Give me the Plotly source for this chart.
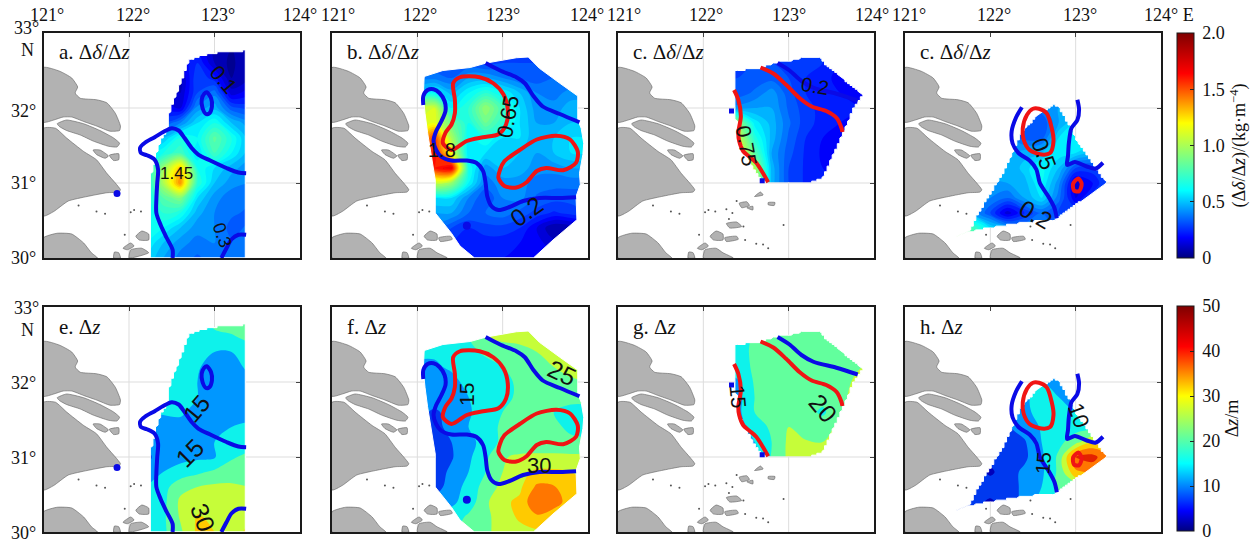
import math
import numpy as np
import plotly.graph_objects as go

# ---------- colour scales and text ----------
CSCALE = [[0, "#00007f"], [0.09, "#0000ff"], [0.3, "#00ffff"], [0.6, "#ffff00"], [0.82, "#ff0000"], [1, "#7f0000"]]
BAND_STOPS = [0, .09, .18, .27, .364, .4545, .545, .636, .727, .818, .909, 1]
BAND_COLORS = ["#0000a0", "#0000d0", "#0055ff", "#00aaff", "#11ffe8", "#66ff99", "#c3ff3c", "#ffd500", "#ff8c00", "#ff3300", "#b00000", "#7f0000"]
LON_TICKS = [121, 122, 123, 124]
LAT_TICKS = [30, 31, 32, 33]
TITLES = ["a. Δ<i>δ</i>/Δ<i>z</i>", "b. Δ<i>δ</i>/Δ<i>z</i>", "c. Δ<i>δ</i>/Δ<i>z</i>", "c. Δ<i>δ</i>/Δ<i>z</i>",
          "e. Δ<i>z</i>", "f. Δ<i>z</i>", "g. Δ<i>z</i>", "h. Δ<i>z</i>"]

# ---------- grids ----------
LON_A = [122.2, 122.4, 122.6, 122.8, 123.0, 123.2, 123.4]
LAT_A = [32.8, 32.6, 32.4, 32.2, 32.0, 31.8, 31.6, 31.4, 31.2, 31.0, 30.8, 30.6, 30.4, 30.2, 30.0]
LON_B = [122.0, 122.2, 122.4, 122.6, 122.8, 123.0, 123.2, 123.4, 123.6, 123.8, 124.0]
LAT_B = LAT_A
LON_C = [122.2, 122.4, 122.6, 122.8, 123.0, 123.2, 123.4, 123.6, 123.8, 124.0]
LAT_C = [32.8, 32.6, 32.4, 32.2, 32.0, 31.8, 31.6, 31.4, 31.2, 31.0]
LON_D = [121.6, 121.8, 122.0, 122.2, 122.4, 122.6, 122.8, 123.0, 123.2, 123.4]
LAT_D = [32.2, 32.0, 31.8, 31.6, 31.4, 31.2, 31.0, 30.8, 30.6, 30.4, 30.2]

# ---------- delta-rho / delta-z fields ----------
Z_A = [
 [.2, .2, .2, .2, .08, .05, .1],
 [.2, .2, .15, .25, .1, .03, .12],
 [.12, .12, .08, .3, .22, .05, .1],
 [.12, .12, .1, .3, .38, .12, .18],
 [.18, .18, .14, .42, .48, .32, .28],
 [.3, .3, .4, .55, .65, .5, .42],
 [.5, .5, .65, .6, .82, .65, .47],
 [.55, .65, .75, .55, .75, .6, .47],
 [.6, .95, 1.3, .65, .55, .47, .42],
 [.6, 1.0, 1.4, .7, .5, .42, .4],
 [.6, .8, .9, .55, .42, .37, .36],
 [.6, .7, .65, .47, .4, .36, .34],
 [.65, .6, .5, .42, .4, .33, .36],
 [.6, .5, .42, .38, .4, .36, .38],
 [.55, .45, .38, .34, .38, .37, .38]]
Z_B = [
 [.3, .3, .3, .3, .3, .3, .28, .28, .28, .28, .28],
 [.3, .3, .3, .3, .28, .3, .3, .3, .3, .3, .3],
 [.38, .38, .35, .45, .45, .4, .35, .32, .35, .35, .35],
 [.5, .6, .48, .6, .7, .6, .5, .4, .38, .42, .42],
 [1.05, 1.1, .6, .7, .95, .75, .55, .42, .42, .48, .48],
 [1.1, 1.15, .85, .65, .85, .7, .55, .45, .45, .5, .5],
 [1.2, 1.55, 1.0, .6, .65, .55, .55, .45, .5, .55, .55],
 [1.1, 1.65, 1.15, .55, .55, .5, .5, .45, .5, .55, .55],
 [1.0, 1.6, 1.7, .65, .42, .5, .48, .42, .42, .45, .45],
 [.7, 1.05, .95, .6, .38, .42, .42, .38, .37, .37, .37],
 [.55, .55, .55, .4, .3, .4, .42, .34, .32, .32, .32],
 [.45, .45, .45, .35, .35, .38, .33, .28, .24, .27, .3],
 [.35, .38, .3, .25, .28, .28, .25, .15, .05, .06, .12],
 [.3, .3, .25, .22, .22, .22, .2, .17, .12, .14, .14],
 [.25, .25, .22, .2, .2, .2, .18, .17, .17, .17, .17]]
Z_C = [
 [.3, .3, .3, .3, .3, .28, .26, .2, .2, .2],
 [.3, .3, .3, .3, .27, .26, .25, .2, .18, .18],
 [.3, .3, .32, .33, .3, .25, .22, .18, .17, .17],
 [.32, .32, .36, .43, .32, .25, .22, .2, .18, .18],
 [.42, .42, .45, .45, .34, .27, .23, .22, .2, .2],
 [1.0, .95, .58, .48, .36, .27, .23, .2, .2, .2],
 [1.2, 1.1, .68, .48, .34, .25, .2, .19, .19, .19],
 [1.2, 1.2, .82, .45, .32, .24, .19, .19, .19, .19],
 [1.2, 1.2, 1.0, .48, .3, .24, .2, .19, .19, .19],
 [1.2, 1.2, 1.1, .48, .3, .24, .22, .2, .2, .2]]
Z_D = [
 [.35, .35, .35, .35, .35, .38, .42, .42, .42, .42],
 [.35, .35, .35, .35, .35, .38, .45, .45, .45, .45],
 [.35, .35, .35, .35, .35, .3, .45, .55, .55, .55],
 [.35, .35, .35, .4, .33, .33, .55, .6, .6, .6],
 [.45, .45, .45, .45, .48, .5, .58, .55, .5, .5],
 [.5, .5, .5, .45, .52, .62, .5, .3, .28, .33],
 [.5, .5, .45, .45, .48, .6, .42, .12, .2, .33],
 [.55, .55, .4, .35, .45, .55, .37, .15, .28, .33],
 [.6, .45, .3, .12, .25, .35, .3, .32, .33, .33],
 [.9, .75, .55, .45, .4, .38, .33, .33, .33, .33],
 [1.0, .9, .6, .5, .42, .4, .33, .33, .33, .33]]

# ---------- delta-z fields ----------
Z_E = [
 [18, 18, 18, 18, 21, 22, 22],
 [17, 17, 17, 18, 19, 19.5, 21],
 [17, 17, 17, 17, 15, 15, 18],
 [17, 17, 17, 15.5, 13, 13, 16],
 [17, 17, 17, 15, 12, 12, 14],
 [16, 16, 16, 15, 12, 12, 13],
 [15, 15.5, 15.5, 14, 12, 12, 13],
 [12, 13, 14, 13, 13, 15, 16],
 [11, 12, 13, 14, 15, 17, 18],
 [9, 12, 13.5, 14, 14.5, 19.5, 21],
 [11, 15, 17, 19, 21, 22, 23],
 [15, 18, 23.5, 25, 26, 26, 25],
 [17, 18.5, 26, 27, 27, 28, 28],
 [17, 19, 25.5, 30.5, 29, 28, 29.5],
 [17, 19, 24, 31, 30, 28, 31]]
Z_F = [
 [17, 17, 18, 20, 26, 27, 27, 27, 27, 27, 27],
 [17, 17, 18, 20, 25.5, 26, 26, 26.5, 27, 27, 27],
 [16, 16, 18, 18.5, 21, 23, 24, 25, 26.5, 27, 27],
 [14, 14, 16, 18, 18, 20, 22, 23, 25, 26, 26],
 [13, 13, 13, 17, 18, 18.5, 21, 22, 23, 24.5, 25],
 [12, 12, 12, 15, 18, 18.5, 21, 22, 22, 22, 22],
 [11, 9.5, 11, 14.5, 17, 20, 21, 21, 20, 18, 18],
 [11, 9, 11, 15, 17.5, 21, 21, 21, 21, 19, 18],
 [10, 8, 10, 13, 17.5, 21, 21, 22, 22, 21, 21],
 [10, 7.5, 9.5, 14, 19, 24.5, 26, 26, 26, 26, 26],
 [10, 7.5, 11, 15, 20, 25, 28.5, 31, 31, 30, 29],
 [10, 8, 12, 17, 22, 26.5, 29, 36, 35.5, 31, 30],
 [12, 12, 14, 17, 24, 29, 31, 40, 38, 32, 30],
 [14, 15, 17, 21, 24, 27, 31, 34, 31, 30, 30],
 [15, 16, 19, 22, 24.5, 26, 28, 29, 29, 29, 29]]
Z_G = [
 [22, 22, 22, 22, 22, 22, 22, 22, 22, 22],
 [18, 18, 21, 22, 22, 22, 22, 22, 23, 23],
 [18, 18, 21, 22, 22, 22, 22, 22, 23, 23],
 [16, 17, 21, 22, 22, 22, 22, 22, 24.5, 26],
 [13, 14.5, 20.5, 22, 22, 22, 22, 23, 26, 27],
 [12, 13, 20, 22, 22, 22, 22, 23.5, 27, 28],
 [12, 13.5, 20, 21, 21.5, 22, 19, 24, 27, 28],
 [12, 13, 17, 21, 25, 22, 23, 26, 28, 28],
 [12, 12, 15, 20, 26, 25.5, 25, 28, 29, 29],
 [12, 12, 12, 20.5, 26, 27, 30, 30, 30, 30]]
Z_H = [
 [12, 12, 12, 12, 12, 13, 13, 12, 12, 12],
 [12, 12, 12, 12, 12, 15, 14, 12, 12, 12],
 [10, 10, 10, 12, 14, 17, 15, 12, 12, 12],
 [9, 9, 9, 9.5, 14, 16.5, 17, 15, 14, 14],
 [9, 9, 9, 9.5, 12, 15.5, 18, 18, 18, 19],
 [8, 8, 8, 8, 9.5, 15, 18.5, 23, 30, 30],
 [8, 8, 7, 8, 9, 14, 21, 40, 42, 35],
 [8, 8, 4, 8, 11, 14, 21, 34, 36, 33],
 [8, 8, 8, 8, 11, 15, 22, 24, 32, 32],
 [8, 7, 4, 8, 11, 17, 20, 25, 28, 30],
 [8, 8, 8, 8, 11, 17, 20, 25, 28, 30]]

# ---------- survey-area outlines ----------
AREA_A = [(122.25, 30), (122.25, 31.09), (122.29, 31.22), (122.32, 31.40), (122.38, 31.58), (122.46, 31.73), (122.47, 31.91),
          (122.50, 32.04), (122.56, 32.20), (122.63, 32.42), (122.70, 32.64), (122.83, 32.69), (122.98, 32.73), (123.14, 32.76),
          (123.32, 32.76), (123.37, 32.79), (123.37, 30)]
AREA_B = [(122.08, 32.42), (122.30, 32.50), (122.62, 32.54), (122.81, 32.60), (122.97, 32.63), (123.16, 32.67), (123.30, 32.68),
          (123.43, 32.53), (123.67, 32.33), (123.88, 32.16), (123.88, 31.84), (123.92, 31.73), (123.95, 31.53), (123.94, 31.38),
          (123.90, 31.13), (123.91, 30.98), (123.86, 30.82), (123.87, 30.51), (123.59, 30.24), (123.36, 30.0), (122.67, 30.0),
          (122.50, 30.16), (122.40, 30.33), (122.21, 30.60), (122.21, 31.04), (122.17, 31.31), (122.12, 31.67), (122.09, 31.93),
          (122.07, 32.16)]
AREA_C = [(122.37, 32.50), (122.66, 32.53), (122.86, 32.61), (123.01, 32.63), (123.21, 32.68), (123.36, 32.68), (123.42, 32.60),
          (123.87, 32.17), (123.77, 32.02), (123.64, 31.67), (123.48, 31.27), (123.40, 31.07), (123.27, 31.01), (122.74, 31.01),
          (122.65, 31.07), (122.55, 31.27), (122.41, 31.58), (122.38, 31.89), (122.37, 32.11)]
AREA_D = [(121.75, 30.35), (121.86, 30.60), (122.00, 30.87), (122.13, 31.09), (122.26, 31.40), (122.36, 31.67), (122.56, 31.91),
          (122.74, 32.04), (122.80, 32.03), (122.91, 31.80), (123.03, 31.53), (123.15, 31.36), (123.30, 31.09), (123.37, 31.01),
          (123.15, 30.82), (122.95, 30.67), (122.76, 30.51), (122.52, 30.49), (122.37, 30.47), (121.98, 30.40)]

# ---------- isolines ----------
BLUE_A = [
 ([122.51, 122.51, 122.44, 122.37, 122.32, 122.32, 122.33, 122.34, 122.30, 122.21, 122.14, 122.13, 122.19, 122.30, 122.40, 122.50, 122.58, 122.65, 122.73, 122.81, 122.95, 123.14, 123.28, 123.37],
  [30.00, 30.11, 30.27, 30.44, 30.60, 30.78, 31.00, 31.18, 31.31, 31.37, 31.40, 31.47, 31.54, 31.61, 31.68, 31.73, 31.70, 31.60, 31.47, 31.38, 31.30, 31.20, 31.14, 31.13]),
 ([122.91, 122.96, 122.97, 122.94, 122.90, 122.86, 122.85, 122.88, 122.91],
  [32.21, 32.13, 32.02, 31.93, 31.92, 32.00, 32.11, 32.19, 32.21]),
 ([123.08, 123.14, 123.20, 123.28, 123.37], [30.00, 30.13, 30.25, 30.31, 30.31])]
RED_A = []
BLUE_B = [
 ([122.07, 122.07, 122.12, 122.19, 122.26, 122.32, 122.33, 122.28, 122.22, 122.19, 122.22, 122.28, 122.40, 122.58, 122.69, 122.77, 122.80, 122.82, 122.87, 122.95, 123.08, 123.24, 123.43, 123.67, 123.86],
  [32.04, 32.16, 32.24, 32.25, 32.20, 32.09, 31.96, 31.82, 31.69, 31.56, 31.44, 31.35, 31.30, 31.30, 31.27, 31.16, 31.00, 30.82, 30.69, 30.64, 30.68, 30.76, 30.80, 30.80, 30.81]),
 ([122.80, 122.97, 123.16, 123.26, 123.36, 123.47, 123.67, 123.90], [32.60, 32.50, 32.41, 32.33, 32.16, 32.02, 31.92, 31.81])]
RED_B = [
 ([122.42, 122.50, 122.73, 122.89, 123.01, 123.06, 123.04, 122.95, 122.77, 122.58, 122.40, 122.30, 122.33, 122.40, 122.44, 122.44, 122.42],
  [32.33, 32.41, 32.41, 32.33, 32.18, 31.98, 31.78, 31.65, 31.61, 31.56, 31.44, 31.53, 31.67, 31.78, 31.93, 32.11, 32.33]),
 ([122.97, 123.02, 123.20, 123.40, 123.63, 123.79, 123.88, 123.86, 123.71, 123.51, 123.40, 123.28, 123.16, 123.02, 122.95, 122.97],
  [31.18, 31.29, 31.44, 31.58, 31.63, 31.58, 31.42, 31.27, 31.17, 31.20, 31.16, 31.01, 30.94, 30.96, 31.07, 31.18])]
BLUE_C = [([122.87, 123.01, 123.15, 123.29, 123.56, 123.81], [32.60, 32.50, 32.36, 32.27, 32.19, 32.10])]
RED_C = [
 ([122.67, 122.82, 122.97, 123.13, 123.27, 123.44, 123.56, 123.62, 123.63], [32.54, 32.46, 32.31, 32.13, 32.02, 31.96, 31.87, 31.73, 31.68]),
 ([122.36, 122.41, 122.44, 122.41, 122.42, 122.47, 122.54, 122.62, 122.70, 122.76], [32.24, 32.11, 31.89, 31.67, 31.56, 31.42, 31.35, 31.27, 31.13, 31.01])]
BLUE_D = [
 ([122.37, 122.30, 122.25, 122.26, 122.33, 122.46, 122.54, 122.58, 122.68, 122.75, 122.78], [32.01, 31.87, 31.69, 31.53, 31.40, 31.30, 31.18, 31.00, 30.82, 30.67, 30.53]),
 ([123.02, 123.04, 123.02, 122.95, 122.92, 122.91, 122.90, 122.99, 123.13, 123.23, 123.32], [32.11, 31.98, 31.84, 31.73, 31.53, 31.36, 31.24, 31.28, 31.22, 31.19, 31.27])]
RED_D = [
 ([122.57, 122.66, 122.72, 122.74, 122.70, 122.60, 122.46, 122.39, 122.38, 122.43, 122.50, 122.57], [31.99, 31.93, 31.73, 31.56, 31.40, 31.38, 31.44, 31.58, 31.73, 31.91, 31.99, 31.99]),
 ([123.03, 123.07, 123.04, 122.98, 122.97, 123.03], [31.06, 30.99, 30.89, 30.90, 30.99, 31.06])]

SPOTS_A = ([121.86], [30.86])
SPOTS_B = ([122.58], [30.43])
SPOTS_C = ([122.33, 122.69], [31.96, 31.03])
SPOTS_D = ([], [])

# ---------- isoline labels: text, lon, lat, angle, size ----------
LABELS = [
 [("0.1", 123.11, 32.38, 50, 21), ("1.45", 122.56, 31.12, 0, 17), ("0.3", 123.09, 30.31, 70, 18)],
 [("0.65", 123.06, 31.89, -80, 22), ("1.8", 122.29, 31.44, 0, 20), ("0.2", 123.28, 30.62, -35, 24)],
 [("0.2", 123.31, 32.29, 10, 20), ("0.75", 122.51, 31.49, 80, 21)],
 [("0.5", 122.63, 31.39, 70, 23), ("0.2", 122.53, 30.58, 30, 24)],
 [("15", 122.79, 31.65, -50, 24), ("15", 122.71, 31.05, -45, 25), ("30", 122.87, 30.19, 70, 25)],
 [("15", 122.57, 31.84, -90, 21), ("25", 123.70, 32.12, 25, 25), ("30", 123.43, 30.89, 0, 22)],
 [("15", 122.41, 31.81, 85, 21), ("20", 123.40, 31.65, 50, 25)],
 [("15", 122.62, 30.92, -85, 20), ("10", 123.04, 31.56, 70, 22)]]

# ---------- land ----------
LAND = [
 [(121.00, 32.54), (121.19, 32.49), (121.33, 32.40), (121.40, 32.28), (121.37, 32.20), (121.43, 32.13), (121.62, 32.11), (121.74, 32.07),
  (121.84, 31.93), (121.90, 31.76), (121.89, 31.70), (121.78, 31.69), (121.62, 31.76), (121.47, 31.82), (121.33, 31.88), (121.23, 31.88),
  (121.12, 31.84), (121.00, 31.81)],
 [(121.16, 31.79), (121.27, 31.84), (121.47, 31.79), (121.66, 31.70), (121.82, 31.60), (121.89, 31.53), (121.86, 31.48), (121.76, 31.49),
  (121.58, 31.56), (121.43, 31.64), (121.27, 31.70), (121.19, 31.75)],
 [(121.00, 31.73), (121.14, 31.73), (121.27, 31.60), (121.47, 31.42), (121.62, 31.31), (121.74, 31.13), (121.84, 31.00), (121.90, 30.91),
  (121.88, 30.88), (121.74, 30.87), (121.51, 30.82), (121.29, 30.76), (121.12, 30.62), (121.00, 30.56)],
 [(121.58, 31.44), (121.66, 31.44), (121.76, 31.36), (121.72, 31.33), (121.62, 31.38)],
 [(121.77, 31.37), (121.88, 31.39), (121.88, 31.31), (121.82, 31.30)],
 [(121.00, 30.27), (121.16, 30.33), (121.33, 30.32), (121.47, 30.20), (121.56, 30.07), (121.63, 30.00), (121.00, 30.00)],
 [(122.27, 30.46), (122.39, 30.48), (122.45, 30.42), (122.31, 30.40)],
 [(122.08, 30.29), (122.15, 30.36), (122.23, 30.32), (122.23, 30.24), (122.12, 30.24)],
 [(122.25, 30.27), (122.39, 30.29), (122.41, 30.25), (122.27, 30.22)],
 [(122.00, 30.00), (122.02, 30.11), (122.15, 30.13), (122.23, 30.07), (122.34, 30.01), (122.35, 30.00)],
 [(121.82, 30.00), (121.83, 30.08), (121.88, 30.07), (121.90, 30.00)],
 [(122.42, 30.73), (122.51, 30.75), (122.54, 30.70), (122.45, 30.67)],
 [(122.51, 30.67), (122.58, 30.69), (122.58, 30.64)],
 [(122.60, 30.82), (122.67, 30.88), (122.70, 30.84)],
 [(122.76, 30.74), (122.84, 30.74), (122.83, 30.70), (122.76, 30.71)],
 [(121.93, 30.13), (122.02, 30.20), (122.06, 30.16), (121.98, 30.11)]]
ISLET_LON = [121.41, 121.62, 121.72, 122.02, 122.06, 122.14, 122.27, 122.34, 122.39, 122.30, 121.95, 122.49, 122.62, 122.70, 122.76, 122.94, 122.47]
ISLET_LAT = [30.70, 30.62, 30.59, 30.61, 30.64, 30.62, 30.65, 30.60, 30.76, 30.52, 30.31, 30.24, 30.19, 30.18, 30.13, 30.44, 30.42]

# ---------- layout in pixels ----------
W, H = 1260, 542
BOX_X = [(43.5, 300), (332, 588), (618, 874), (905, 1161)]
BOX_Y = [(33, 258), (307, 532)]
TOP_SHIFT = [[3.5, 3.5, 3, 0], [6, 3, 0, -1], [5.5, 3, 0, -2], [3.5, 4, 4, None]]

def inside(p, poly):
    x, y = p
    c = False
    for i in range(len(poly)):
        x0, y0 = poly[i]
        x1, y1 = poly[(i + 1) % len(poly)]
        if (y0 > y) != (y1 > y) and x < x0 + (y - y0) * (x1 - x0) / (y1 - y0):
            c = not c
    return c

def roughen(poly, dx=0.03, dy=0.025):
    out = []
    for i in range(len(poly)):
        x0, y0 = poly[i]
        x1, y1 = poly[(i + 1) % len(poly)]
        n = max(1, math.ceil(math.hypot(x1 - x0, y1 - y0) / 0.01))
        for k in range(n):
            t = k / n
            q = (round((x0 + t * (x1 - x0)) / dx) * dx, round((y0 + t * (y1 - y0)) / dy) * dy)
            if not out or out[-1] != q:
                out.append(q)
    return out

def mask_path(poly):
    area = sum(poly[i][0] * poly[(i + 1) % len(poly)][1] - poly[(i + 1) % len(poly)][0] * poly[i][1] for i in range(len(poly)))
    inner = list(poly) if area < 0 else list(poly)[::-1]
    pts = [(121, 30), (124, 30), (124, 33), (121, 33), (121, 30)] + inner + [inner[0], (121, 30)]
    return [p[0] for p in pts], [p[1] for p in pts]

def grid_segments(poly):
    xs, ys = [], []
    for c in LON_TICKS[1:3]:
        cut = []
        for i in range(len(poly)):
            x0, y0 = poly[i]
            x1, y1 = poly[(i + 1) % len(poly)]
            if (x0 - c) * (x1 - c) < 0:
                cut.append(y0 + (c - x0) * (y1 - y0) / (x1 - x0))
        cut = [30] + sorted(cut) + [33]
        for a, b in zip(cut[::2], cut[1::2]):
            xs += [c, c, None]
            ys += [a, b, None]
    for c in LAT_TICKS[1:3]:
        cut = []
        for i in range(len(poly)):
            x0, y0 = poly[i]
            x1, y1 = poly[(i + 1) % len(poly)]
            if (y0 - c) * (y1 - c) < 0:
                cut.append(x0 + (c - y0) * (x1 - x0) / (y1 - y0))
        cut = [121] + sorted(cut) + [124]
        for a, b in zip(cut[::2], cut[1::2]):
            xs += [a, b, None]
            ys += [c, c, None]
    return xs, ys

fig = go.Figure()
annotations = []
layout_axes = {}

COLS = [
 dict(lon=LON_A, lat=LAT_A, area=AREA_A, jag=True, blue=BLUE_A, red=RED_A, spots=SPOTS_A, fields=(Z_A, Z_E), sym="circle", ss=7),
 dict(lon=LON_B, lat=LAT_B, area=AREA_B, jag=False, blue=BLUE_B, red=RED_B, spots=SPOTS_B, fields=(Z_B, Z_F), sym="circle", ss=8),
 dict(lon=LON_C, lat=LAT_C, area=AREA_C, jag=True, blue=BLUE_C, red=RED_C, spots=SPOTS_C, fields=(Z_C, Z_G), sym="square", ss=5),
 dict(lon=LON_D, lat=LAT_D, area=AREA_D, jag=True, blue=BLUE_D, red=RED_D, spots=SPOTS_D, fields=(Z_D, Z_H), sym="square", ss=5)]

BAND_SCALE = [[s, c] for s, c in zip(BAND_STOPS, BAND_COLORS)]
SERIF = "Liberation Serif"
for row in range(2):
    for col in range(4):
        n = row * 4 + col + 1
        xa, ya = f"x{n}", f"y{n}"
        info = COLS[col]
        x0, x1 = BOX_X[col]
        y0, y1 = BOX_Y[row]
        layout_axes[f"xaxis{n}"] = dict(domain=[x0 / W, x1 / W], range=[121, 124], anchor=ya, side="top", tickvals=LON_TICKS[1:3],
                                        showticklabels=False, ticks="inside", ticklen=4, tickcolor="#444", showgrid=False, zeroline=False,
                                        showline=True, mirror=True, linecolor="#1a1a1a", linewidth=2)
        layout_axes[f"yaxis{n}"] = dict(domain=[1 - y1 / H, 1 - y0 / H], range=[30, 33], anchor=xa, side="right", tickvals=LAT_TICKS[1:3],
                                        showticklabels=False, ticks="inside", ticklen=4, tickcolor="#444", showgrid=False, zeroline=False,
                                        showline=True, mirror=True, linecolor="#1a1a1a", linewidth=2)
        z = np.array(info["fields"][row], dtype=float)[::-1]
        scale, zend, step = (CSCALE, 2.0, 0.05) if row == 0 else (BAND_SCALE, 50.0, 5.0)
        fig.add_trace(go.Contour(x=info["lon"], y=info["lat"][::-1], z=z, xaxis=xa, yaxis=ya, colorscale=scale, zmin=0, zmax=zend,
                                 zauto=False, autocontour=False, showscale=False, hoverinfo="skip",
                                 contours=dict(start=0, end=zend, size=step, coloring="fill", showlines=False),
                                 line=dict(width=0, smoothing=1.0)))
        area = info["area"]
        edge = roughen(area) if info["jag"] else area
        mx, my = mask_path(edge)
        common = dict(xaxis=xa, yaxis=ya, showlegend=False, hoverinfo="skip")
        fig.add_trace(go.Scatter(x=mx, y=my, mode="lines", fill="toself", fillcolor="white", line=dict(width=1, color="white"), **common))
        gx, gy = grid_segments(area)
        fig.add_trace(go.Scatter(x=gx, y=gy, mode="lines", line=dict(color="#dddddd", width=1), **common))
        lx, ly = [], []
        for poly in LAND:
            keep = [p for p in poly if not inside(p, area)]
            if len(keep) >= 3:
                lx += [p[0] for p in keep] + [keep[0][0], None]
                ly += [p[1] for p in keep] + [keep[0][1], None]
        fig.add_trace(go.Scatter(x=lx, y=ly, mode="lines", fill="toself", fillcolor="#b2b2b2",
                                 line=dict(color="#606060", width=0.6, shape="spline", smoothing=0.5), **common))
        keep = [(a, b) for a, b in zip(ISLET_LON, ISLET_LAT) if not inside((a, b), area)]
        fig.add_trace(go.Scatter(x=[k[0] for k in keep], y=[k[1] for k in keep], mode="markers",
                                 marker=dict(size=2, color="#555555"), **common))
        for cx, cy in info["blue"]:
            fig.add_trace(go.Scatter(x=cx, y=cy, mode="lines", line=dict(color="#0a0ae6", width=4, shape="spline", smoothing=0.8), **common))
        for cx, cy in info["red"]:
            fig.add_trace(go.Scatter(x=cx, y=cy, mode="lines", line=dict(color="#f01414", width=4, shape="spline", smoothing=0.8), **common))
        if info["spots"][0]:
            fig.add_trace(go.Scatter(x=info["spots"][0], y=info["spots"][1], mode="markers",
                                     marker=dict(size=info["ss"], color="#0a0ae6", symbol=info["sym"]), **common))
        for txt, lo, la, ang, sz in LABELS[n - 1]:
            annotations.append(dict(text=txt, x=lo, y=la, xref=xa, yref=ya, showarrow=False, textangle=ang,
                                    font=dict(family="Liberation Sans", size=sz, color="#111")))
        annotations.append(dict(text=TITLES[n - 1], x=121, y=1 - (52 if row == 0 else 327) / H, xref=xa, yref="paper", xanchor="left",
                                yanchor="middle", xshift=13, showarrow=False, font=dict(family=SERIF, size=21, color="#111")))
        if row == 0:
            for t, lo in enumerate(LON_TICKS):
                sh = TOP_SHIFT[col][t]
                if sh is None:
                    annotations.append(dict(text=f"{lo}° E", x=lo, y=1 - 15 / H, xref=xa, yref="paper", xanchor="left", yanchor="middle",
                                            xshift=-19, showarrow=False, font=dict(family=SERIF, size=18, color="#111")))
                else:
                    annotations.append(dict(text=f"{lo}°", x=lo, y=1 - 15 / H, xref=xa, yref="paper", xanchor="center", yanchor="middle",
                                            xshift=sh, showarrow=False, font=dict(family=SERIF, size=18, color="#111")))

for row, rows_y in enumerate([[(258, "30°", 23), (183, "31°", 23), (111, "32°", 23), (28, "33°", 26), (50, "N", 27)],
                              [(533, "30°", 23), (458, "31°", 23), (383, "32°", 23), (308, "33°", 26), (330, "N", 27)]]):
    for py, txt, px in rows_y:
        annotations.append(dict(text=txt, x=px / W, y=1 - py / H, xref="paper", yref="paper", xanchor="center", yanchor="middle",
                                showarrow=False, font=dict(family=SERIF, size=18, color="#111")))

# colour bars
CB_TICKS = [[0, 0.5, 1.0, 1.5, 2.0], [0, 10, 20, 30, 40, 50]]
CB_TEXT = [["\u20090", "\u20090.5", "\u20091.0", "\u20091.5", "\u20092.0"], ["\u20090", "\u200910", "\u200920", "\u200930", "\u200940", "\u200950"]]
CB_TITLE = ["(Δ<i>δ</i>/Δ<i>z</i>)/(kg·m<sup>−4</sup>)", "Δ<i>z</i>/m"]
for row, vmax in enumerate([2.0, 50]):
    n = row * 4 + 1
    y0, y1 = (33, 258) if row == 0 else (306, 531)
    fig.add_trace(go.Heatmap(z=[[0, vmax]], x=[0, 1], y=[0], xaxis=f"x{n}", yaxis=f"y{n}", colorscale=CSCALE, zmin=0, zmax=vmax,
                             hoverinfo="skip", showscale=True,
                             colorbar=dict(x=1177 / W, xanchor="left", xpad=0, ypad=0, y=1 - (y0 + y1) / 2 / H, yanchor="middle",
                                           lenmode="pixels", len=225, thicknessmode="pixels", thickness=17,
                                           outlinecolor="#1a1a1a", outlinewidth=1, ticks="inside", ticklen=4, tickcolor="#222",
                                           tickvals=CB_TICKS[row], ticktext=CB_TEXT[row],
                                           tickfont=dict(family=SERIF, size=18, color="#111"),
                                           title=dict(text=CB_TITLE[row], side="right", font=dict(family=SERIF, size=18, color="#111")))))

fig.update_layout(width=W, height=H, margin=dict(l=0, r=0, t=0, b=0), paper_bgcolor="white", plot_bgcolor="white",
                  showlegend=False, annotations=annotations, **layout_axes)
fig.write_html("out.html", config=dict(displayModeBar=False),
               post_script="document.body.style.margin='0';document.body.style.overflow='hidden';")
